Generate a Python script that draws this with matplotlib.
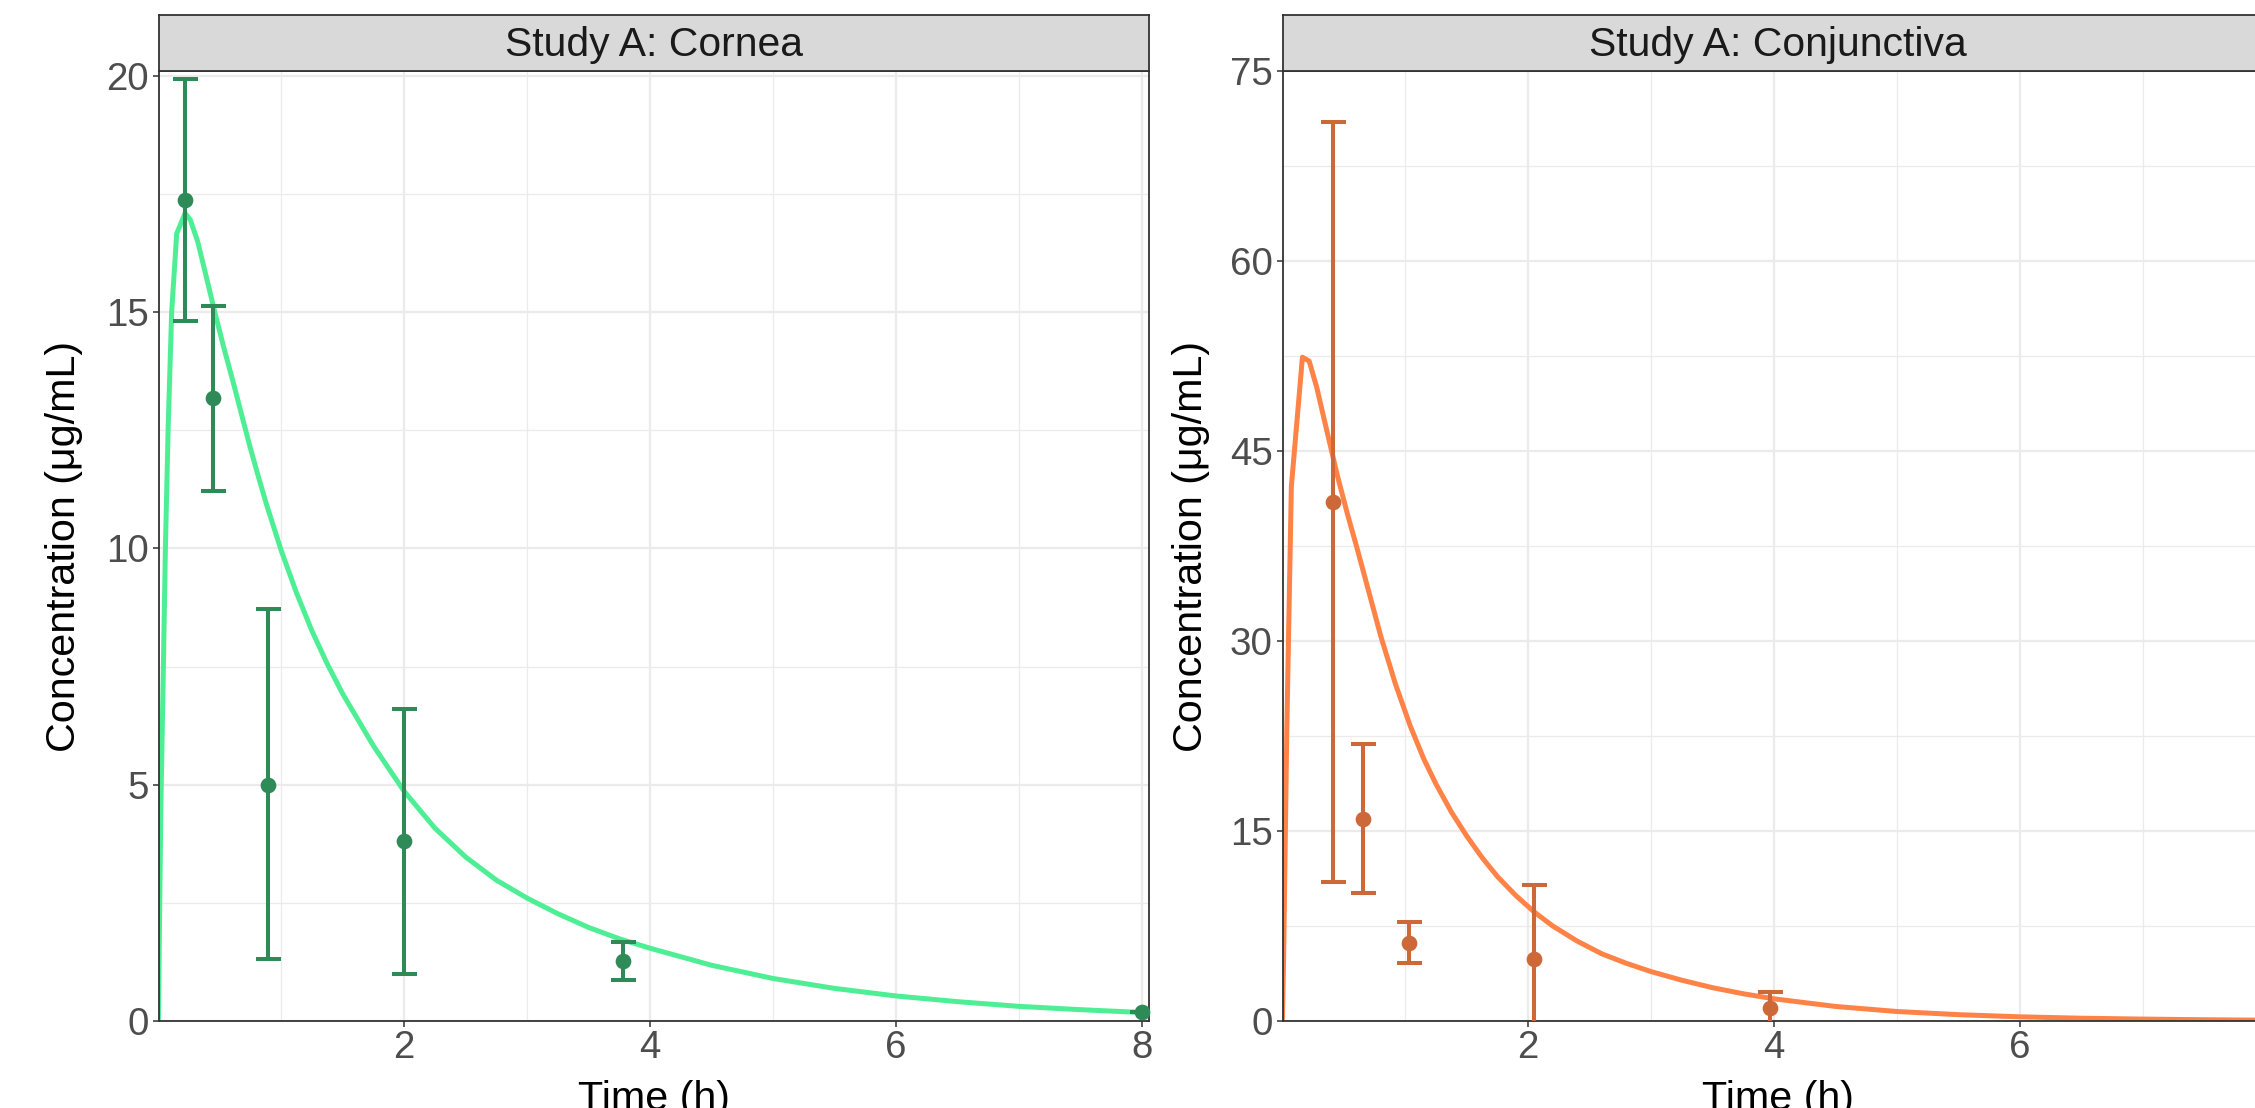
import matplotlib
matplotlib.use("Agg")
import matplotlib.pyplot as plt
from matplotlib.ticker import FixedLocator

plt.rcParams['font.family'] = ['Liberation Sans', 'DejaVu Sans']

# --- Study A: Cornea ---
cornea_t = [0.22, 0.445, 0.89, 2.0, 3.78, 8.0]
cornea_mean = [17.38, 13.18, 5.0, 3.81, 1.26, 0.2]
cornea_lo = [14.8, 11.22, 1.31, 1.0, 0.87, 0.2]
cornea_hi = [19.93, 15.13, 8.72, 6.61, 1.67, 0.2]

cornea_fit_t = [0, 0.02, 0.04, 0.057, 0.08, 0.108, 0.149, 0.217, 0.26, 0.32,
                0.38, 0.455, 0.53, 0.604, 0.67, 0.74, 0.81, 0.876, 1.0, 1.125,
                1.25, 1.375, 1.5, 1.75, 2.0, 2.25, 2.5, 2.75, 3.0, 3.25,
                3.5, 3.75, 4.0, 4.5, 5.0, 5.5, 6.0, 6.5, 7.0, 7.5, 8.0]
cornea_fit = [0, 4.5, 7.4, 10.0, 12.6, 15.0, 16.66, 17.09, 16.95, 16.49,
              15.85, 15.04, 14.27, 13.56, 12.9, 12.2, 11.55, 10.96, 9.95, 9.05,
              8.25, 7.55, 6.92, 5.82, 4.86, 4.08, 3.47, 2.98, 2.6, 2.27,
              1.98, 1.74, 1.54, 1.18, 0.9, 0.69, 0.53, 0.41, 0.31, 0.24, 0.18]

# --- Study A: Conjunctiva ---
conj_t = [0.41, 0.657, 1.03, 2.05, 3.97]
conj_mean = [41.0, 15.94, 6.18, 4.87, 1.0]
conj_lo = [10.97, 10.08, 4.58, -0.8, -0.3]
conj_hi = [71.0, 21.85, 7.85, 10.75, 2.27]

conj_fit_t = [0, 0.01, 0.036, 0.073, 0.163, 0.218, 0.28, 0.34, 0.449, 0.53,
              0.611, 0.70, 0.80, 0.92, 1.04, 1.15, 1.25, 1.375, 1.5, 1.625,
              1.75, 1.9, 2.05, 2.2, 2.4, 2.6, 2.8, 3.0, 3.25, 3.5,
              3.75, 4.0, 4.5, 5.0, 5.5, 6.0, 6.5, 7.0, 7.5, 8.06]
conj_fit = [0, 5.0, 23.0, 42.2, 52.4, 52.1, 50.0, 47.5, 43.0, 40.0,
            37.2, 34.0, 30.4, 26.6, 23.3, 20.7, 18.7, 16.5, 14.6, 12.9,
            11.4, 9.9, 8.6, 7.5, 6.3, 5.3, 4.55, 3.9, 3.22, 2.63,
            2.15, 1.75, 1.15, 0.75, 0.5, 0.33, 0.22, 0.15, 0.1, 0.06]

W, H = 2255, 1108
fig = plt.figure(figsize=(W / 100, H / 100), dpi=100)


def px(x0, y_top, w, h):
    return [x0 / W, (H - y_top - h) / H, w / W, h / H]


def panel(x0, title, t, mean, lo, hi, fit_t, fit, line_col, pt_col,
          ymax, ymajor, yminor, xmajor, ylab_x):
    ax = fig.add_axes(px(x0, 71, 990, 950))
    ax.set_xlim(0.005, 8.06)
    ax.set_ylim(0, ymax)
    ax.xaxis.set_major_locator(FixedLocator(xmajor))
    ax.xaxis.set_minor_locator(FixedLocator([1, 3, 5, 7]))
    ax.yaxis.set_major_locator(FixedLocator(ymajor))
    ax.yaxis.set_minor_locator(FixedLocator(yminor))
    ax.grid(True, which='major', color='#EBEBEB', lw=1.6, zorder=0)
    ax.grid(True, which='minor', color='#EBEBEB', lw=0.9, zorder=0)
    ax.set_axisbelow(True)
    for s in ax.spines.values():
        s.set_color('#333333')
        s.set_linewidth(1.3)
    ax.tick_params(which='major', length=4.3, width=1.1, color='#333333',
                   labelsize=27.7, labelcolor='#4D4D4D')
    ax.tick_params(axis='x', which='major', pad=2.0)
    ax.tick_params(axis='y', which='major', pad=3.0)
    ax.tick_params(which='minor', length=0)

    ax.plot(fit_t, fit, color=line_col, lw=3.6, solid_joinstyle='round',
            zorder=2)
    yerr = [[m - l for m, l in zip(mean, lo)], [h_ - m for m, h_ in zip(mean, hi)]]
    ax.errorbar(t, mean, yerr=yerr, fmt='none', ecolor=pt_col, elinewidth=2.9,
                capsize=9, capthick=2.9, zorder=3)
    ax.plot(t, mean, 'o', color=pt_col, ms=10.3, zorder=4, clip_on=False)

    strip = fig.add_axes(px(x0, 15, 990, 56))
    strip.set_facecolor('#D9D9D9')
    strip.set_xticks([])
    strip.set_yticks([])
    for s in strip.spines.values():
        s.set_color('#333333')
        s.set_linewidth(1.3)
    strip.text(0.5, 0.47, title, ha='center', va='center', fontsize=29.4,
               color='#1A1A1A', transform=strip.transAxes)

    fig.text(ylab_x / W, (H - 546) / H, 'Concentration (μg/mL)', rotation=90,
             ha='center', va='center', fontsize=29.7, color='black')
    fig.text((x0 + 495) / W, (H - 1110) / H, 'Time (h)', ha='center',
             va='baseline', fontsize=29.7, color='black')
    return ax


panel(159, 'Study A: Cornea', cornea_t, cornea_mean, cornea_lo, cornea_hi,
      cornea_fit_t, cornea_fit, '#4EEE94', '#2E8B57',
      20.1, [0, 5, 10, 15, 20], [2.5, 7.5, 12.5, 17.5], [2, 4, 6, 8], 64)
panel(1283, 'Study A: Conjunctiva', conj_t, conj_mean, conj_lo, conj_hi,
      conj_fit_t, conj_fit, '#FF8247', '#CD6839',
      75, [0, 15, 30, 45, 60, 75], [7.5, 22.5, 37.5, 52.5, 67.5], [2, 4, 6], 1191)

fig.savefig('out.png', dpi=100)
